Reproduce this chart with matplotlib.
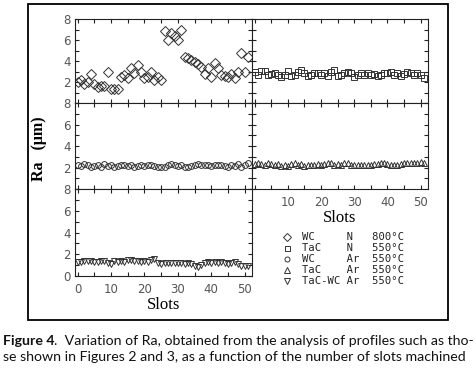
import matplotlib
matplotlib.use("Agg")
import matplotlib.pyplot as plt
from matplotlib.lines import Line2D
from matplotlib.patches import Rectangle
from matplotlib.ticker import MultipleLocator, FixedLocator

# ---------------- data ----------------
wc_n_800 = [2.06, 2.22, 1.84, 2.0, 2.75, 1.80, 1.58, 1.65, 1.65, 2.94,
            1.36, 1.33, 1.36, 2.47, 2.69, 2.37, 3.32, 2.85, 3.64, 3.01,
            2.37, 2.53, 3.01, 2.22, 2.53, 2.22, 6.87, 6.01, 6.74, 6.42,
            6.01, 6.96, 4.43, 4.27, 4.11, 3.96, 3.70, 3.48, 2.75, 3.39,
            2.47, 3.80, 3.32, 2.69, 2.63, 2.53, 2.75, 2.44, 2.94, 4.75,
            2.94, 4.43]
tac_n_550 = [3.01, 2.69, 3.10, 3.07, 2.69, 2.78, 2.85, 2.69, 2.53, 2.69,
             3.10, 2.59, 2.69, 3.01, 3.16, 2.85, 2.59, 2.69, 2.91, 2.85,
             2.69, 2.85, 2.59, 3.01, 3.16, 2.59, 2.69, 2.91, 3.01, 2.85,
             2.53, 2.69, 2.85, 2.69, 2.91, 2.69, 2.78, 2.59, 2.69, 2.85,
             2.91, 3.01, 2.69, 2.85, 2.59, 2.78, 3.01, 2.91, 2.69, 2.85,
             2.69, 2.37]
wc_ar_550 = [2.25, 2.16, 2.34, 2.25, 2.09, 2.16, 2.25, 2.09, 2.34, 2.16,
             2.25, 2.09, 2.16, 2.28, 2.22, 2.16, 2.25, 2.09, 2.19, 2.25,
             2.16, 2.22, 2.25, 2.16, 2.09, 2.03, 2.09, 2.25, 2.34, 2.28,
             2.16, 2.25, 2.09, 2.03, 2.16, 2.25, 2.34, 2.28, 2.22, 2.25,
             2.16, 2.28, 2.22, 2.25, 2.16, 2.03, 2.25, 2.19, 2.34, 2.09,
             2.25, 2.41]
tac_ar_550 = [2.34, 2.47, 2.34, 2.25, 2.47, 2.34, 2.25, 2.34, 2.16, 2.25,
              2.19, 2.34, 2.41, 2.25, 2.34, 2.16, 2.25, 2.25, 2.25, 2.34,
              2.25, 2.34, 2.47, 2.41, 2.25, 2.34, 2.25, 2.47, 2.41, 2.25,
              2.25, 2.25, 2.25, 2.25, 2.25, 2.25, 2.34, 2.34, 2.47, 2.41,
              2.34, 2.25, 2.25, 2.25, 2.34, 2.41, 2.47, 2.47, 2.41, 2.47,
              2.53, 2.47]
tacwc_ar_550 = [1.32, 1.26, 1.38, 1.41, 1.41, 1.26, 1.32, 1.38, 1.41, 1.17,
                1.07, 1.38, 1.32, 1.41, 1.32, 1.47, 1.47, 1.38, 1.41, 1.32,
                1.38, 1.26, 1.47, 1.56, 1.17, 1.10, 1.17, 1.17, 1.17, 1.23,
                1.17, 1.17, 1.07, 1.17, 1.07, 0.95, 0.86, 1.01, 1.17, 1.26,
                1.17, 1.26, 1.17, 1.32, 1.17, 1.07, 1.17, 1.26, 1.07, 0.95,
                0.95, 0.90]

legend_material = ["WC", "TaC", "WC", "TaC", "TaC-WC"]
legend_gas = ["N", "N", "Ar", "Ar", "Ar"]
legend_temp = ["800°C", "550°C", "550°C", "550°C", "550°C"]
x_ticklabels = ["0", "10", "20", "30", "40", "50"]

# ---------------- figure ----------------
W, H = 475, 369
fig = plt.figure(figsize=(W / 100, H / 100), dpi=100)
fig.patch.set_facecolor("white")

def fx(px):
    return px / W

def fy(py):
    return 1 - py / H

# outer frame
fig.add_artist(Rectangle((fx(28), fy(320)), fx(448) - fx(28), fy(4) - fy(320),
                         transform=fig.transFigure, fill=False,
                         lw=1.3, edgecolor="black"))

colL, colR = (75, 252), (252, 428)
rows = [(19.3, 103.3), (103.3, 189.0), (189.0, 276.0)]

tick_color = "#555555"
tick_font = dict(family="DejaVu Sans", size=8.5)

def make_ax(col, row):
    x0, x1 = col
    y0, y1 = row
    ax = fig.add_axes([fx(x0), fy(y1), fx(x1) - fx(x0), fy(y0) - fy(y1)])
    ax.set_xlim(-0.8, 52.2)
    ax.set_ylim(0, 8)
    ax.xaxis.set_major_locator(MultipleLocator(5))
    ax.yaxis.set_major_locator(MultipleLocator(1))
    ax.tick_params(axis="both", which="both", direction="in", length=3.2,
                   width=0.8, color="#222222", top=True, right=True,
                   labelcolor=tick_color, labelsize=tick_font["size"])
    for s in ax.spines.values():
        s.set_linewidth(0.8)
        s.set_color("#222222")
    ax.set_xticklabels([])
    ax.set_yticklabels([])
    return ax

def set_ylabels(ax, show_zero=False):
    vals = [0, 1, 2, 3, 4, 5, 6, 7, 8]
    labs = []
    for v in vals:
        if v in (2, 4, 6, 8) or (v == 0 and show_zero):
            labs.append(str(v))
        else:
            labs.append("")
    ax.yaxis.set_major_locator(FixedLocator(vals))
    ax.set_yticklabels(labs, fontfamily=tick_font["family"])
    ax.tick_params(axis="y", pad=3)

def set_xlabels(ax, show_zero=True):
    ticks = list(range(0, 55, 5))
    labs = []
    for t in ticks:
        s = str(t)
        if s in x_ticklabels and (t != 0 or show_zero):
            labs.append(s)
        else:
            labs.append("")
    ax.xaxis.set_major_locator(FixedLocator(ticks))
    ax.set_xticklabels(labs, fontfamily=tick_font["family"])
    ax.tick_params(axis="x", pad=5)

mk = dict(linestyle="none", markerfacecolor="none", markeredgecolor="#333333",
          markeredgewidth=0.7)

ax1 = make_ax(colL, rows[0])
ax1.plot(range(len(wc_n_800)), wc_n_800, marker="D", markersize=4.6, **mk)
set_ylabels(ax1)

ax2 = make_ax(colR, rows[0])
ax2.plot(range(len(tac_n_550)), tac_n_550, marker="s", markersize=5.0, **mk)

ax3 = make_ax(colL, rows[1])
ax3.plot(range(len(wc_ar_550)), wc_ar_550, marker="o", markersize=4.2, **mk)
set_ylabels(ax3)

ax4 = make_ax(colR, rows[1])
ax4.plot(range(len(tac_ar_550)), tac_ar_550, marker="^", markersize=4.4, **mk)
set_xlabels(ax4, show_zero=False)
ax4.set_xlabel("Slots", fontfamily="Liberation Serif", fontsize=12, labelpad=1)

ax5 = make_ax(colL, rows[2])
ax5.plot(range(len(tacwc_ar_550)), tacwc_ar_550, marker="v", markersize=4.4, **mk)
set_ylabels(ax5, show_zero=True)
set_xlabels(ax5, show_zero=True)
ax5.set_xlabel("Slots", fontfamily="Liberation Serif", fontsize=12, labelpad=1)

# y axis label
fig.text(fx(39), fy(149), "Ra   (μm)", rotation=90, ha="center", va="center",
         fontfamily="Liberation Serif", fontsize=11.5, fontweight="bold")

# legend block
markers = ["D", "s", "o", "^", "v"]
msizes = [3.6, 3.6, 3.6, 3.8, 3.8]
ly = [237, 248, 259, 270, 281]
for m, ms, y, mat, gas, temp in zip(markers, msizes, ly, legend_material,
                                    legend_gas, legend_temp):
    fig.add_artist(Line2D([fx(287)], [fy(y)], transform=fig.transFigure,
                          marker=m, markersize=ms, linestyle="none",
                          markerfacecolor="none", markeredgecolor="#333333",
                          markeredgewidth=0.7))
    fig.text(fx(302), fy(y), f"{mat:<7}{gas:<4}{temp}", ha="left", va="center",
             fontfamily="DejaVu Sans Mono", fontsize=7.6, color="#222222")

# caption
cap_font = "Lato"
cap_size = 10.2
t_bold = fig.text(fx(3), fy(341), "Figure 4", fontfamily=cap_font,
                  fontsize=cap_size, fontweight="bold", ha="left", va="center",
                  color="#111111")
fig.canvas.draw()
bb = t_bold.get_window_extent()
fig.text(bb.x1 / W, fy(341),
         ".  Variation of Ra, obtained from the analysis of profiles such as tho-",
         fontfamily=cap_font, fontsize=cap_size, ha="left", va="center",
         color="#111111")
fig.text(fx(3), fy(357),
         "se shown in Figures 2 and 3, as a function of the number of slots machined",
         fontfamily=cap_font, fontsize=cap_size, ha="left", va="center",
         color="#111111")

fig.savefig("out.png", dpi=100, facecolor="white")
